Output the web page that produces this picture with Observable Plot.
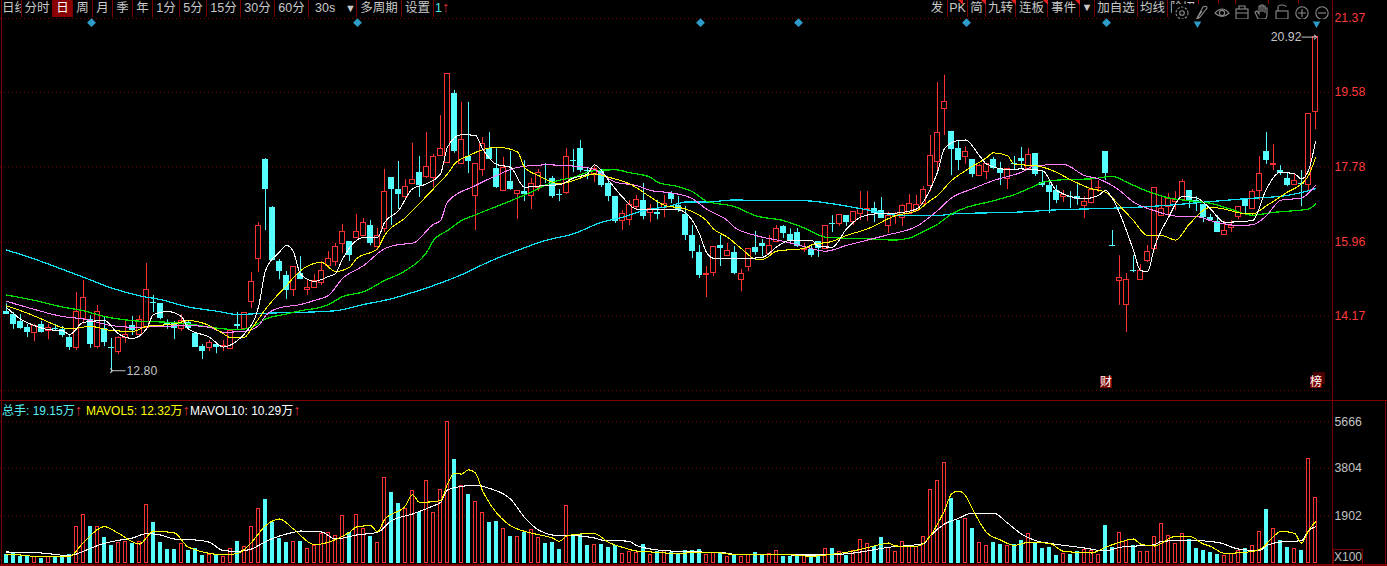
<!DOCTYPE html>
<html lang="zh">
<head>
<meta charset="utf-8">
<script src="https://cdn.jsdelivr.net/npm/d3@7"></script>
<script src="https://cdn.jsdelivr.net/npm/@observablehq/plot@0.6"></script>
<style>
html,body{margin:0;padding:0;background:#000;width:1387px;height:566px;overflow:hidden;font-family:"Liberation Sans","Noto Sans CJK SC",sans-serif}
svg{display:block}
#chart{position:absolute;left:0;top:0}
.v,.h{position:absolute;background:#7d0000}
.c{position:absolute;top:0;height:17px;line-height:16px;font-size:12.5px;color:#c8c8c8;text-align:center;border-right:1px solid #7d0000;overflow:hidden;white-space:nowrap;box-sizing:border-box}
.t{position:absolute;top:0;width:0;height:0;border-top:5px solid #e02020;border-left:5px solid transparent}
.m{position:absolute;top:404px;font-size:12px;line-height:14px;white-space:nowrap}
.r{color:#d83030;font-size:15px;line-height:12px}
.badge{position:absolute;top:376px;width:12px;height:12px;background:#7a0000;color:#fff;font-size:12px;line-height:12px;text-align:center}
</style>
</head>
<body>
<div id="chart"></div>
<div class="v" style="left:1px;top:0;width:1px;height:564px"></div>
<div class="v" style="left:1332px;top:0;width:1px;height:564px"></div>
<div class="v" style="left:1385px;top:400px;width:1px;height:164px"></div>
<div class="h" style="left:0;top:400px;width:1387px;height:1px"></div>
<div class="h" style="left:0;top:564px;width:1387px;height:2px"></div>

<div class="c" style="left:2px;width:20px;text-align:left">日线</div>
<div class="c" style="left:22px;width:31px">分时</div>
<div class="c" style="left:53px;width:20px;background:#8a0000;color:#fff">日</div>
<div class="c" style="left:73px;width:20px">周</div>
<div class="c" style="left:93px;width:20px">月</div>
<div class="c" style="left:113px;width:20px">季</div>
<div class="c" style="left:133px;width:20px">年</div>
<div class="c" style="left:153px;width:27px">1分</div>
<div class="c" style="left:180px;width:27px">5分</div>
<div class="c" style="left:207px;width:34px">15分</div>
<div class="c" style="left:241px;width:34px">30分</div>
<div class="c" style="left:275px;width:34px">60分</div>
<div class="c" style="left:309px;width:48px;text-align:left;padding-left:6px">30s<span style="position:absolute;right:0;top:0;font-size:11px">▼</span></div>
<div class="c" style="left:357px;width:45px">多周期</div>
<div class="c" style="left:402px;width:32px">设置</div>
<div class="c" style="left:434px;width:26px;border:0;color:#4fe6f0;text-align:left;padding-left:1px">1<span class="r">↑</span></div>

<div class="c" style="left:927px;width:21px">发</div>
<div class="c" style="left:948px;width:20px">PK</div>
<div class="c" style="left:968px;width:18px">简</div>
<div class="c" style="left:986px;width:30px">九转</div>
<div class="c" style="left:1016px;width:32px">连板</div>
<div class="c" style="left:1048px;width:32px">事件</div>
<div class="c" style="left:1080px;width:15px;font-size:11px;line-height:15px">▼</div>
<div class="c" style="left:1095px;width:43px">加自选</div>
<div class="c" style="left:1138px;width:30px">均线</div>
<div class="c" style="left:1168px;width:31px;text-align:left;padding-left:2px">险招</div>
<div class="c" style="left:1199px;width:20px"></div>
<div class="c" style="left:1219px;width:17px"></div>
<div class="c" style="left:1236px;width:33px"></div>
<div class="c" style="left:1269px;width:30px"></div>
<div class="t" style="left:958px"></div><div class="t" style="left:981px"></div>
<div class="t" style="left:1011px"></div><div class="t" style="left:1043px"></div><div class="t" style="left:1075px"></div>

<svg style="position:absolute;left:1172px;top:4px;background:#000" width="160" height="15" viewBox="0 -4 160 15" fill="none" stroke="#8c8c8c" stroke-width="1.1">
  <circle cx="10" cy="5" r="2.3"/><circle cx="10" cy="5" r="6" stroke-dasharray="2.4 1.4"/>
  <path d="M24 12 L31 -1 Q35 -3 35 0 L28 9 Z M24 12 L30 3"/>
  <path d="M43 5 Q50 -3 57 5 Q50 12 43 5 Z"/><circle cx="50" cy="5" r="2.6"/>
  <rect x="64" y="1" width="12" height="10"/><path d="M67 1 V-2 H73 V1 M64 5 H76"/>
  <path d="M86 11 L83 4 L85 3 L87 6 V-2 H89 V4 V-3 H91 V4 V-2 H93 V5 V0 H95 V7 Q95 11 92 11 Z"/>
  <rect x="104" y="3" width="12" height="8"/><path d="M106 3 V-1 Q106 -3 110 -3 Q114 -3 114 -1"/>
  <circle cx="130" cy="5" r="6.2"/><path d="M126 5 H134 M130 1 V9"/>
  <circle cx="150" cy="5" r="6.2"/><path d="M146 5 H154"/>
</svg>

<div class="m" style="left:2px;color:#55f0f0">总手: 19.15万<span class="r">↑</span></div>
<div class="m" style="left:86px;color:#ffff00">MAVOL5: 12.32万<span class="r">↑</span></div>
<div class="m" style="left:190px;color:#ffffff">MAVOL10: 10.29万<span class="r">↑</span></div>
<div class="badge" style="left:1100px">财</div>
<div class="badge" style="left:1313px;top:372px;background:#4a0000"></div>
<div class="badge" style="left:1310px">榜</div>
<div style="position:absolute;left:1333px;top:549px;width:28px;height:14px;border:1px solid #7d0000;color:#c0c0c0;font-size:12px;line-height:14px;text-align:center">X100</div>

<script>
const openP = [14.28,14.21,14.04,13.89,13.76,13.97,13.80,13.87,13.84,13.65,
13.41,14.09,14.09,13.43,13.87,13.41,13.29,13.63,13.94,13.72,
13.89,14.50,14.47,13.98,13.98,13.85,14.01,13.75,13.43,13.39,
13.48,13.43,13.37,13.97,13.85,14.51,15.54,17.96,16.80,15.49,
15.15,14.79,15.20,14.80,14.84,14.97,15.39,15.47,15.92,15.97,
16.06,16.10,16.36,15.84,16.28,17.52,17.23,17.05,17.37,17.64,
17.54,17.51,18.04,17.88,19.56,17.86,18.03,17.08,17.71,18.22,
17.74,17.19,17.43,17.12,17.18,17.07,17.26,17.68,17.50,17.10,
17.14,17.93,18.22,17.69,17.62,17.69,17.38,17.06,16.46,16.49,
16.80,16.97,16.66,16.67,16.78,17.14,16.85,16.63,16.11,15.71,
15.16,15.21,15.88,15.62,15.71,15.04,15.35,15.83,15.93,15.67,
15.97,16.34,16.14,16.19,15.77,15.78,15.97,15.80,16.41,16.39,
16.60,16.45,16.63,16.74,16.77,16.72,16.36,16.60,16.55,16.65,
16.72,16.89,17.31,17.89,19.17,18.64,18.22,18.01,17.96,17.57,
17.65,17.96,17.74,17.48,17.85,17.98,17.72,18.10,17.40,17.33,
17.21,17.04,17.06,17.06,16.84,16.90,17.26,18.15,15.88,15.03,
14.43,15.28,15.04,15.51,15.80,16.58,16.80,16.94,16.97,17.21,
16.97,16.87,16.55,16.46,16.14,16.29,16.56,16.99,16.75,17.19,
18.15,17.83,17.69,17.50,17.33,17.38,17.35,19.10];
const closeP = [14.22,13.97,13.87,13.77,13.94,13.77,13.89,13.84,13.70,13.41,
14.28,14.62,13.48,14.26,13.53,13.39,13.63,13.72,13.82,14.07,
14.80,14.48,14.11,13.97,13.87,14.06,13.87,13.41,13.31,13.51,
13.41,13.45,13.80,13.92,14.25,15.00,16.34,17.23,15.51,15.25,
14.79,15.37,15.05,14.86,15.01,15.27,15.56,15.85,16.21,15.64,
16.21,16.43,15.92,16.11,17.17,17.23,17.12,17.30,17.47,17.33,
17.78,18.01,18.22,20.03,18.16,18.43,17.91,17.85,18.34,17.96,
17.28,17.76,17.23,17.20,17.11,17.37,17.64,17.67,17.06,17.09,
18.02,17.92,17.69,17.67,17.72,17.33,17.06,16.46,16.63,16.85,
16.99,16.58,16.75,16.64,16.89,16.99,16.72,16.12,15.73,15.15,
15.18,15.83,15.80,15.75,15.20,15.19,15.80,15.71,15.85,15.87,
16.28,16.17,16.00,15.85,15.80,15.63,15.80,16.35,16.39,16.62,
16.43,16.69,16.75,16.76,16.65,16.53,16.58,16.65,16.84,16.89,
16.87,17.22,18.05,18.59,19.36,18.20,17.93,18.13,17.60,17.79,
17.84,17.74,17.62,17.72,17.83,17.91,18.07,17.60,17.33,17.16,
16.97,17.11,17.05,16.99,16.92,17.23,17.28,17.62,15.85,15.10,
15.05,15.25,15.27,15.71,17.26,16.76,17.01,16.97,17.42,16.97,
16.92,16.55,16.48,16.19,16.22,16.36,16.82,16.82,17.18,17.62,
17.93,17.86,17.62,17.33,17.43,17.35,19.05,20.92];
const highP = [14.47,14.26,14.21,13.97,13.97,14.04,13.97,13.97,13.92,13.72,
14.74,15.03,14.18,14.43,14.14,13.63,13.67,14.06,14.16,14.18,
15.44,14.67,14.47,14.08,14.04,14.21,14.06,13.77,13.48,13.58,
13.53,13.58,13.82,14.26,14.26,15.22,16.43,17.98,16.82,15.54,
15.25,15.37,15.61,15.05,15.17,15.49,15.73,15.93,16.39,15.97,
16.63,16.53,16.48,16.29,17.72,17.52,17.91,17.47,18.35,18.03,
18.61,18.08,19.02,20.03,19.63,19.34,19.34,17.85,18.49,18.61,
18.22,18.01,18.15,17.21,17.93,17.50,17.72,17.86,17.55,17.23,
18.22,18.20,18.42,17.74,17.79,17.72,17.52,17.06,16.72,16.97,
17.09,17.38,16.87,16.97,17.09,17.18,17.06,16.82,16.36,15.88,
15.37,15.83,16.12,15.93,15.85,15.30,15.80,16.22,16.02,16.12,
16.36,16.36,16.28,16.29,15.93,15.88,15.97,16.35,16.60,16.63,
16.60,16.70,17.18,17.18,16.92,17.04,16.68,16.68,16.87,17.11,
17.09,17.30,18.54,19.82,20.00,18.64,18.39,18.26,17.96,17.84,
17.86,18.01,17.89,17.74,18.03,18.25,18.22,18.10,17.69,17.47,
17.33,17.21,17.18,17.35,17.06,17.47,17.45,18.15,16.24,15.63,
15.20,15.63,15.42,15.88,17.26,17.06,17.14,17.18,17.47,17.21,
17.06,16.87,16.63,16.60,16.46,16.48,16.82,17.01,17.23,18.03,
18.61,18.32,17.81,17.62,17.60,17.69,19.05,20.92];
const lowP = [14.21,13.85,13.85,13.65,13.55,13.76,13.60,13.82,13.65,13.34,
13.34,13.98,13.39,13.38,13.43,12.80,13.24,13.51,13.70,13.65,
13.89,14.26,14.08,13.85,13.60,13.80,13.85,13.41,13.12,13.31,
13.26,13.31,13.37,13.85,13.85,14.35,15.22,16.24,15.51,15.05,
14.57,14.64,15.05,14.67,14.84,14.91,15.37,15.37,15.68,15.49,
16.05,16.09,15.87,15.76,16.19,16.36,16.75,16.97,17.37,17.04,
17.50,17.28,18.03,17.86,18.11,17.84,17.62,16.24,17.55,17.96,
17.26,17.19,17.21,16.51,16.94,16.75,17.18,17.38,17.02,16.94,
17.11,17.64,17.64,17.47,17.40,17.28,16.94,16.41,16.24,16.36,
16.75,16.50,16.43,16.50,16.55,16.89,16.68,16.00,15.56,15.08,
14.62,15.13,15.37,15.61,15.17,14.76,15.25,15.64,15.61,15.66,
15.95,16.05,15.95,15.83,15.71,15.59,15.59,15.80,16.19,16.34,
16.34,16.36,16.48,16.46,16.43,16.53,16.17,16.39,16.34,16.63,
16.70,16.87,17.18,17.69,18.54,17.57,17.69,17.84,17.52,17.57,
17.47,17.72,17.33,17.23,17.69,17.74,17.69,17.55,17.28,16.65,
16.89,16.92,16.77,16.85,16.53,16.88,17.16,17.45,15.85,14.43,
13.77,15.22,15.03,15.47,15.76,16.58,16.58,16.72,16.97,16.77,
16.70,16.43,16.46,16.19,16.14,16.19,16.50,16.63,16.75,16.97,
17.84,17.69,17.57,17.30,17.33,16.82,17.21,18.68];
const volume = [347,413,267,280,253,187,267,253,253,347,
1453,1933,1466,1453,1026,707,813,867,800,867,
2346,1626,826,547,547,773,507,573,307,333,
307,253,573,867,653,1453,2173,2546,1626,986,
826,867,867,573,707,1186,1213,1106,1893,1226,
1946,1373,1066,826,3412,2826,2386,2173,2893,2026,
3292,2013,2933,5666,4146,3079,2746,2453,2013,1626,
1666,1373,1066,1053,1226,1333,1013,787,826,547,
2293,1106,1146,707,733,746,627,707,373,453,
427,746,347,467,480,427,347,507,507,547,
333,413,427,253,333,253,333,427,347,360,
493,267,267,347,293,320,253,573,587,453,
307,493,933,773,667,1026,627,453,853,707,
667,1053,2933,3292,4012,2586,1706,1773,1386,813,
693,826,746,693,733,906,1173,787,587,627,
307,373,347,467,533,493,333,1506,627,1226,
893,693,467,467,1053,1573,1093,773,1186,946,
587,507,427,347,293,373,493,587,693,1253,
2146,1373,906,627,573,507,4186,2613];

const ma5Idx = [0,2,4,6,8,9,11,14,16,18,20,21,23,25,26,29,31,33,34,36,37,39,40,41,42,44,46,47,48,51,53,54,56,58,60,62,63,65,67,68,70,72,74,77,79,81,83,84,85,86,88,90,94,96,98,99,100,101,106,108,110,112,115,116,118,120,122,124,127,130,132,133,134,136,137,139,140,143,145,148,150,154,156,157,158,161,162,163,164,166,168,170,172,174,178,180,182,184,185,186,187];
const ma5Val = [14.38,14.10,13.94,13.84,13.82,13.72,14.02,14.06,13.74,13.63,13.86,14.21,14.28,14.16,13.86,13.66,13.42,13.58,13.74,14.39,15.27,15.72,15.88,15.72,15.19,15.01,15.13,15.2,15.55,16.07,16.07,16.43,16.72,17.25,17.37,17.61,18.26,18.56,18.54,18.22,17.84,17.77,17.29,17.33,17.35,17.51,17.61,17.83,17.69,17.46,17.05,16.76,16.76,16.74,16.48,16.16,15.71,15.57,15.57,15.59,15.84,16.01,16.01,15.85,15.84,16.28,16.56,16.64,16.66,16.76,17.25,17.65,18.22,18.42,18.43,18.05,17.85,17.72,17.73,17.69,17.21,17.01,17.09,17.21,17.01,15.76,15.27,15.25,15.84,16.56,17.06,17.03,16.76,16.44,16.48,17.25,17.65,17.61,17.49,17.69,18.39];
const ma10Idx = [0,3,5,9,12,15,18,20,24,26,29,31,32,34,35,37,40,42,45,47,49,50,53,54,57,58,61,63,64,66,70,73,74,76,79,81,84,86,89,92,94,97,100,101,103,105,107,108,110,114,115,118,120,123,127,130,132,133,135,137,140,141,143,144,147,150,152,155,157,159,161,163,165,167,169,172,174,176,178,180,183,185,186,187];
const ma10Val = [14.42,14.24,14.10,13.86,13.92,13.82,13.80,13.92,13.98,14.06,13.94,13.74,13.65,13.66,13.86,14.34,14.91,15.27,15.47,15.25,15.35,15.56,15.80,16.12,16.55,16.72,17.25,17.61,17.85,18.05,18.26,18.14,17.77,17.57,17.37,17.45,17.61,17.53,17.37,17.05,16.85,16.76,16.48,16.28,16.08,15.80,15.55,15.54,15.74,15.81,15.89,15.98,16.12,16.28,16.60,16.72,16.97,17.09,17.45,17.69,18.0,18.12,18.05,17.84,17.81,17.65,17.47,17.25,17.17,16.84,16.48,16.12,16.12,16.01,16.40,16.80,16.76,16.67,16.64,16.84,17.17,17.37,17.57,18.0];
const ma20Idx = [0,4,8,11,15,18,22,26,29,31,34,36,37,39,42,44,46,48,51,54,56,58,61,62,63,67,70,73,77,81,84,85,87,90,92,95,98,100,103,104,107,111,114,117,120,123,126,130,133,135,138,141,145,147,151,154,156,159,161,164,167,170,172,176,178,180,182,185,187];
const ma20Val = [14.53,14.33,14.16,14.10,13.94,13.90,13.92,13.94,13.90,13.78,13.80,13.94,14.18,14.37,14.45,14.55,14.67,15.08,15.39,15.80,15.90,15.93,16.39,16.48,16.93,17.33,17.57,17.77,17.83,17.80,17.72,17.61,17.41,17.33,17.21,17.15,17.01,16.76,16.48,16.32,16.12,15.98,15.85,15.74,15.88,16.01,16.14,16.34,16.72,17.03,17.25,17.45,17.65,17.81,17.84,17.57,17.49,17.21,16.93,16.72,16.59,16.58,16.48,16.36,16.38,16.60,16.97,17.03,17.33];
const ma30Idx = [0,4,8,11,14,18,23,26,30,33,35,37,40,42,45,46,48,51,54,57,60,61,63,65,67,71,75,78,81,84,87,89,92,93,96,98,100,104,107,111,114,117,119,123,127,129,131,133,135,137,141,144,147,148,151,155,158,160,163,166,169,172,175,178,181,184,186,187];
const ma30Val = [14.68,14.55,14.39,14.30,14.16,14.06,14.02,13.98,13.88,13.84,13.90,14.10,14.22,14.30,14.39,14.45,14.64,14.76,15.03,15.27,15.71,16.0,16.24,16.48,16.62,16.89,17.17,17.41,17.53,17.69,17.71,17.64,17.53,17.41,17.30,17.18,16.95,16.82,16.60,16.48,16.30,16.08,16.06,16.04,16.01,16.06,16.22,16.39,16.64,16.79,16.96,17.11,17.33,17.41,17.47,17.49,17.55,17.41,17.19,17.03,16.96,16.90,16.75,16.61,16.68,16.72,16.76,16.88];
const ma60Idx = [0,4,8,11,15,19,22,26,30,33,37,42,47,51,55,58,61,65,69,73,77,81,85,88,91,95,97,100,104,108,114,119,123,128,133,135,145,150,156,161,165,172,177,183,187];
const ma60Val = [15.77,15.55,15.30,15.11,14.85,14.66,14.57,14.39,14.29,14.21,14.24,14.26,14.30,14.45,14.59,14.74,14.91,15.17,15.49,15.76,16.0,16.16,16.44,16.56,16.72,16.84,16.93,16.93,16.98,16.96,16.96,16.86,16.74,16.60,16.60,16.64,16.69,16.74,16.77,16.80,16.84,16.94,17.01,17.09,17.25];
const mavol5Idx = [0,2,4,9,11,14,16,19,21,24,26,31,33,35,37,39,41,44,47,49,50,52,53,54,57,58,59,62,63,64,65,66,67,68,69,72,74,76,78,79,80,82,84,86,88,90,93,95,101,104,107,111,115,117,120,125,126,127,130,132,133,134,135,136,137,138,140,142,144,146,149,151,155,157,159,161,162,164,167,169,171,172,174,177,179,181,182,184,185,186,187];
const mavol5Val = [360,333,280,267,840,1466,1200,773,1293,1213,640,347,387,840,1506,1773,1373,746,946,1240,1453,1506,1266,1746,2306,2746,2439,2506,3172,3612,3572,3746,3612,2906,2413,1506,1280,1146,1013,880,1093,1173,1186,840,640,493,440,400,440,347,333,360,280,333,440,760,813,693,680,1106,1573,2106,2773,2893,2706,2173,1240,933,720,840,800,480,413,640,840,973,773,693,1080,1080,773,680,400,440,547,1066,1280,1200,813,1306,1666];
const mavol10Idx = [0,5,9,10,12,14,16,18,20,22,24,27,29,31,33,35,37,39,41,42,45,47,50,53,55,58,61,62,63,65,67,69,71,72,74,76,79,81,84,85,89,90,94,99,102,104,112,117,121,126,131,132,134,136,138,141,143,145,147,149,154,157,159,164,165,169,173,176,179,180,182,185,186,187];
const mavol10Val = [453,413,307,373,600,800,920,1013,1186,1133,973,933,840,507,480,573,867,1093,1240,1293,1253,973,1133,1240,1706,1973,2306,2439,2933,3079,3132,2999,2773,2573,1840,1333,1106,1106,1013,933,880,707,507,453,440,360,333,333,413,640,790,1106,1573,1800,2013,2013,1613,1173,906,800,613,493,640,746,880,920,840,573,507,707,853,906,1306,1466];

const priceTicks = [21.37,19.58,17.78,15.96,14.17];
const priceGrid = [21.37,19.58,17.78,15.96,14.17,12.37];
const volTicks = [5666,3804,1902];
const diamondIdx = [12,50,99,113,137,157];
const triangleIdx = [170,187];
const markerPrice = [21.27];
const lowLabel = {i:15, p:12.80, text:"12.80"};
const highLabel = {i:187, p:20.92, text:"20.92"};

const RED="#ff3232", CYAN="#55ffff", GRID="#820000", GRAY="#c4c4c4";
const rows = openP.map((o,i)=>({i,o,c:closeP[i],h:highP[i],l:lowP[i],v:volume[i],up:closeP[i]>o}));
const upRows = rows.filter(d=>d.up), dnRows = rows.filter(d=>!d.up);
const series = (idx,val)=>idx.map((i,k)=>({i,v:val[k]}));
const lineOpts = (stroke,sw=1.05)=>({x:"i",y:"v",stroke,strokeWidth:sw,curve:"monotone-x",shapeRendering:"crispEdges"});
const xScale = {type:"linear",domain:[0,187],range:[6,1315]};
const font = {background:"#000",fontFamily:'"Liberation Sans","Noto Sans CJK SC",sans-serif',fontSize:"12.3px",overflow:"visible"};

const upperPlot = Plot.plot({
  width:1387,height:400,marginLeft:0,marginRight:54,marginTop:0,marginBottom:0,style:font,
  x:{...xScale,axis:null},
  y:{type:"linear",domain:[14.17,21.37],range:[315.6,18],axis:null},
  marks:[
    Plot.ruleY(priceGrid,{stroke:GRID,strokeDasharray:"1,3"}),
    Plot.axisY(priceTicks,{anchor:"right",tickSize:0,tickPadding:1,tickFormat:d=>d.toFixed(2),fill:"#ff3a3a",label:null}),
    Plot.ruleX(rows,{x:"i",y1:"l",y2:"h",stroke:d=>d.up?RED:CYAN}),
    Plot.rect(dnRows,{x1:d=>d.i-0.36,x2:d=>d.i+0.36,y1:"o",y2:"c",fill:CYAN,shapeRendering:"crispEdges"}),
    Plot.rect(upRows,{x1:d=>d.i-0.29,x2:d=>d.i+0.29,y1:"o",y2:"c",fill:"#000",stroke:RED,shapeRendering:"crispEdges"}),
    Plot.line(series(ma60Idx,ma60Val),lineOpts("#10e0f4",1.25)),
    Plot.line(series(ma30Idx,ma30Val),lineOpts("#00e000",1.25)),
    Plot.line(series(ma20Idx,ma20Val),lineOpts("#ff80ff")),
    Plot.line(series(ma10Idx,ma10Val),lineOpts("#ffff00")),
    Plot.line(series(ma5Idx,ma5Val),lineOpts("#ffffff")),
    Plot.dot(diamondIdx,{x:d=>d,y:()=>markerPrice[0],dx:1,symbol:"diamond2",r:4,fill:"#2f9bc9"}),
    Plot.dot(triangleIdx,{x:d=>d,y:()=>markerPrice[0],dx:1,dy:1,symbol:"triangle2",rotate:180,r:3.6,fill:"#2f9bc9"}),
    Plot.link([lowLabel],{x1:"i",x2:d=>d.i+2,y1:"p",y2:"p",dy:-2,stroke:GRAY,markerStart:"arrow",markerSize:2}),
    Plot.text([lowLabel],{x:"i",y:"p",text:"text",dx:15,dy:-2,textAnchor:"start",fill:GRAY}),
    Plot.link([highLabel],{x1:d=>d.i-2,x2:"i",y1:"p",y2:"p",stroke:GRAY,markerEnd:"arrow",markerSize:2}),
    Plot.text([highLabel],{x:"i",y:"p",text:"text",dx:-14,textAnchor:"end",fill:GRAY})
  ]
});

const lowerPlot = Plot.plot({
  width:1387,height:166,marginLeft:0,marginRight:54,marginTop:0,marginBottom:0,style:font,
  x:{...xScale,axis:null},
  y:{type:"linear",domain:[0,5666],range:[162.8,21.3],axis:null},
  marks:[
    Plot.ruleY(volTicks,{stroke:GRID,strokeDasharray:"1,3"}),
    Plot.axisY(volTicks,{anchor:"right",tickSize:0,tickPadding:1,tickFormat:d=>String(d),fill:GRAY,label:null}),
    Plot.rect(dnRows,{x1:d=>d.i-0.29,x2:d=>d.i+0.29,y1:0,y2:"v",fill:CYAN,shapeRendering:"crispEdges"}),
    Plot.rect(upRows,{x1:d=>d.i-0.22,x2:d=>d.i+0.22,y1:0,y2:"v",fill:"#000",stroke:RED,shapeRendering:"crispEdges"}),
    Plot.line(series(mavol10Idx,mavol10Val),lineOpts("#ffffff")),
    Plot.line(series(mavol5Idx,mavol5Val),lineOpts("#ffff00"))
  ]
});
const host = document.getElementById("chart");
host.appendChild(upperPlot); host.appendChild(lowerPlot);
</script>
</body>
</html>
